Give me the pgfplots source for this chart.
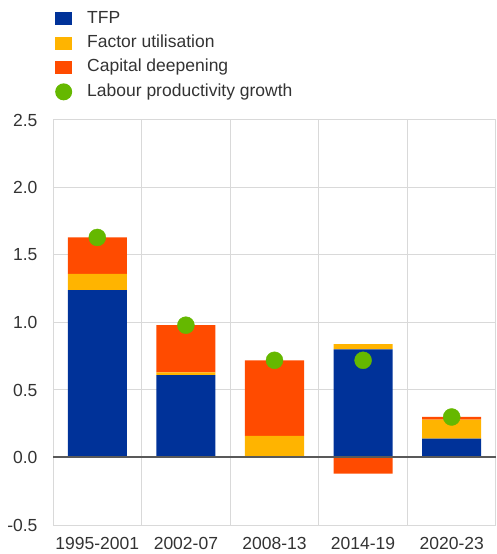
\documentclass[border=0pt]{standalone}
\usepackage{pgfplots}
\pgfplotsset{compat=1.18}
\usepackage{pgfplotstable}
\usepackage{fontspec}
\setmainfont{Liberation Sans}

\definecolor{tfp}{HTML}{003299}
\definecolor{fu}{HTML}{FFB400}
\definecolor{cd}{HTML}{FF4B00}
\definecolor{lpg}{HTML}{65B800}
\definecolor{gridgrey}{HTML}{D9D9D9}
\definecolor{zerogrey}{HTML}{595959}
\definecolor{txt}{HTML}{333333}

% Contributions to labour productivity growth (percentage points)
% cdpos: positive capital deepening, cdneg: negative capital deepening
\pgfplotstableread{
x tfp fu cdpos cdneg lp
0 1.24 0.12 0.27 0.00 1.63
1 0.61 0.02 0.35 0.00 0.98
2 0.00 0.16 0.56 0.00 0.72
3 0.80 0.04 0.00 -0.12 0.72
4 0.14 0.14 0.02 0.00 0.30
}\contrib

\newcommand\chartfont{\fontsize{17.5}{21}\selectfont}

\pgfplotsset{
  base/.style={
    scale only axis, width=443pt, height=405pt,
    at={(0pt,0pt)}, anchor=south west,
    xmin=-0.5, xmax=4.5, ymin=-0.5, ymax=2.5,
  },
  sq/.style={legend image code/.code={%
    \fill[#1, draw=none] (0pt,-6.5pt) rectangle (17pt,6.5pt);
    \path[draw=none, fill=none] (0pt,0pt) -- (30pt,0pt);}},
}

\begin{document}
\begin{tikzpicture}
\path[use as bounding box] (-53pt,-29pt) rectangle (443pt,525pt);

\begin{axis}[
  base,
  ybar stacked, bar width=0.666,
  axis line style={draw=none},
  major tick length=0pt, minor tick length=0pt,
  xtick={0,...,4},
  xticklabels={1995-2001,2002-07,2008-13,2014-19,2020-23},
  minor xtick={-0.5,0.5,...,4.5},
  xminorgrids, ymajorgrids,
  ytick={-0.5,0,...,2.5},
  grid style={gridgrey, line width=1pt},
  minor grid style={gridgrey, line width=1pt},
  /pgf/number format/fixed,
  /pgf/number format/fixed zerofill,
  /pgf/number format/precision=1,
  /pgf/number format/assume math mode=true,
  tick label style={font=\chartfont, text=txt},
  xticklabel style={yshift=-9pt},
  yticklabel style={xshift=-12pt},
  legend style={
    at={(axis description cs:-0.0023,1.28)}, anchor=north west,
    draw=none, fill=none, font=\chartfont, text=txt,
    row sep=4pt,
    nodes={text height=12.6pt, text depth=3.7pt},
  },
  legend cell align=left,
]
\addplot[fill=tfp, draw=none, sq=tfp] table[x=x, y=tfp] {\contrib};
\addlegendentry{TFP}
\addplot[fill=fu, draw=none, sq=fu] table[x=x, y=fu] {\contrib};
\addlegendentry{Factor utilisation}
\addplot[fill=cd, draw=none, sq=cd] table[x=x, y=cdpos] {\contrib};
\addlegendentry{Capital deepening}
\addlegendimage{draw=none, legend image code/.code={%
  \fill[lpg, draw=none] (8.5pt,0pt) circle (8.5pt);
  \path[draw=none, fill=none] (0pt,0pt) -- (30pt,0pt);}}
\addlegendentry{Labour productivity growth}
\end{axis}

% Negative contributions, zero line and total growth on top
\begin{axis}[base, hide axis]
\addplot[ybar, bar width=0.666, fill=cd, draw=none]
  table[x=x, y=cdneg] {\contrib};
\addplot[zerogrey, line width=2pt, no marks] coordinates {(-0.5,0) (4.5,0)};
\addplot[lpg, only marks, mark=*, mark size=8.5pt, mark options={draw=lpg, fill=lpg}]
  table[x=x, y=lp] {\contrib};
\end{axis}
\end{tikzpicture}
\end{document}
